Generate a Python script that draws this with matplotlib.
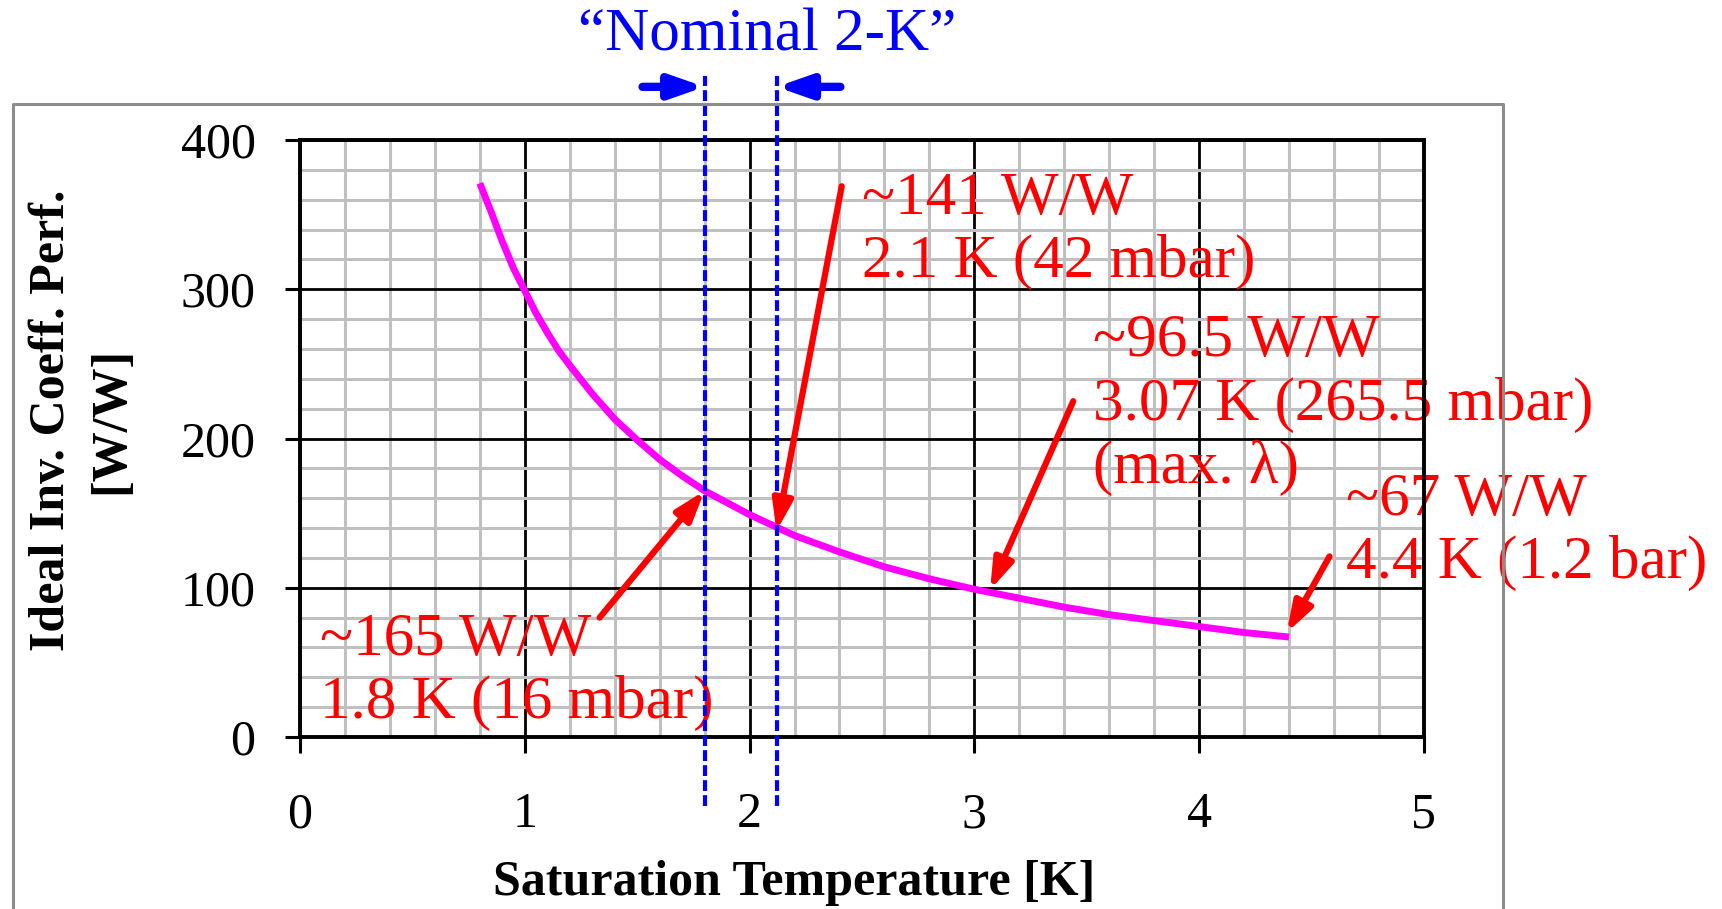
import numpy as np
import matplotlib.pyplot as plt
from matplotlib.lines import Line2D
from matplotlib.ticker import MultipleLocator

plt.rcParams['font.family'] = ['Liberation Serif', 'DejaVu Serif']

# saturation temperature [K] vs ideal inverse COP [W/W]
temp_k = [0.8, 0.85, 0.9, 0.95, 1.0, 1.05, 1.1, 1.15, 1.2, 1.3, 1.4, 1.5, 1.6, 1.7, 1.8,
          1.9, 2.0, 2.2, 2.4, 2.6, 2.8, 3.0, 3.2, 3.4, 3.6, 3.8, 4.0, 4.2, 4.4]
inv_cop = [371, 352, 332, 314, 299, 284, 271, 259, 249, 230, 213, 199, 186, 175, 165,
           157, 149, 135, 124, 114, 106, 99, 93, 87, 82, 78, 74, 70, 67]

# marked operating points (arrow tips) and their labels
mark_t = [1.8, 2.12, 3.07, 4.39]
mark_cop = [165, 138, 98.6, 70]
mark_labels = [["~165 W/W", "1.8 K (16 mbar)"],
               ["~141 W/W", "2.1 K (42 mbar)"],
               ["~96.5 W/W", "3.07 K (265.5 mbar)", "(max. λ)"],
               ["~67 W/W", "4.4 K (1.2 bar)"]]
# "nominal 2-K" band
nominal_t = [1.8, 2.12]

# layout (data coords)
arrow_tails = [(1.333, 80), (2.41, 369), (3.44, 225), (4.58, 121)]
label_pos = [(0.089, 55.0), (2.502, 350.3), (3.529, 255.0), (4.653, 149.0)]
line_step = 42.3

fig = plt.figure(figsize=(17.22, 9.09), dpi=100)
ax = fig.add_axes([0.1742, 0.1892, 0.6527, 0.6568])

ax.set_xlim(0, 5)
ax.set_ylim(0, 400)
ax.xaxis.set_major_locator(MultipleLocator(1))
ax.xaxis.set_minor_locator(MultipleLocator(0.2))
ax.yaxis.set_major_locator(MultipleLocator(100))
ax.yaxis.set_minor_locator(MultipleLocator(20))
ax.set_axisbelow(True)
ax.grid(which='minor', color='#c0c0c0', lw=2.2)
ax.grid(which='major', color='black', lw=2.0)
ax.tick_params(which='minor', length=0)
ax.tick_params(axis='x', which='major', direction='out', length=11.5, width=2.2,
               labelsize=36, pad=28)
ax.tick_params(axis='y', which='major', direction='out', length=11, width=2.2,
               labelsize=36, pad=21)
for s in ax.spines.values():
    s.set_linewidth(2.8)

ax.plot(temp_k, inv_cop, color='#ff00ff', lw=5, zorder=2.2, solid_capstyle='butt')

# red callouts
for tip_x, tip_y, tail, pos, lines in zip(mark_t, mark_cop, arrow_tails, label_pos, mark_labels):
    ax.annotate('', xy=(tip_x, tip_y), xytext=tail,
                arrowprops=dict(arrowstyle='-|>,head_length=0.9,head_width=0.3',
                                color='red', lw=4.5, mutation_scale=20,
                                shrinkA=0, shrinkB=0),
                zorder=4, annotation_clip=False)
    for i, txt in enumerate(lines):
        ax.text(pos[0], pos[1] - i * line_step, txt, color='red', fontsize=44,
                va='baseline', ha='left', zorder=2, clip_on=False)

# nominal band
for t in nominal_t:
    ax.plot([t, t], [-46, 443], color='blue', lw=3, dashes=(2.6, 1.0),
            zorder=3, clip_on=False)
ax.annotate('', xy=(nominal_t[0], 435.6), xytext=(1.524, 435.6),
            arrowprops=dict(arrowstyle='-|>,head_length=1.0,head_width=0.35',
                            color='blue', lw=6, mutation_scale=20, shrinkA=0, shrinkB=0),
            annotation_clip=False)
ax.annotate('', xy=(nominal_t[1], 435.6), xytext=(2.404, 435.6),
            arrowprops=dict(arrowstyle='-|>,head_length=1.0,head_width=0.35',
                            color='blue', lw=6, mutation_scale=20, shrinkA=0, shrinkB=0),
            annotation_clip=False)
ax.text(2.076, 459.7, '\u201cNominal 2-K\u201d', color='blue', fontsize=44,
        ha='center', va='baseline', clip_on=False)

ax.set_xlabel('Saturation Temperature [K]', fontsize=36, fontweight='bold')
ax.xaxis.set_label_coords(0.44, -0.206)
ax.set_ylabel('Ideal Inv. Coeff. Perf.\n[W/W]', fontsize=36, fontweight='bold',
              linespacing=1.38, va='center')
ax.yaxis.set_label_coords(-0.194, 0.531)

# grey frame around the chart area
fig.lines.append(Line2D([0.0073, 0.0073, 0.8728, 0.8728], [-0.01, 0.8856, 0.8856, -0.01],
                        transform=fig.transFigure, color='#8c8c8c', lw=2.2, zorder=5))

fig.savefig('out.png', dpi=100)
